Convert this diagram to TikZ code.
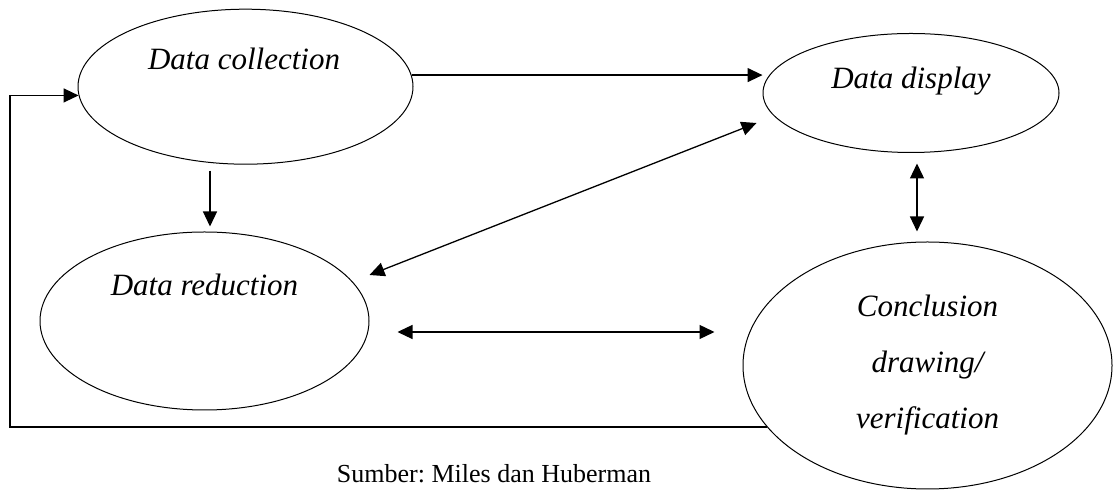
\documentclass[tikz,border=0pt]{standalone}
\usepackage{fontspec}
\setmainfont{Liberation Serif}
\usetikzlibrary{arrows.meta,shapes.geometric,calc}

\begin{document}
\begin{tikzpicture}[x=0.5pt,y=-0.5pt,
  stage/.style={draw,ellipse,inner sep=0pt,line width=0.5pt},
  stagetxt/.style={inner sep=0pt,font=\fontsize{15.5}{28}\selectfont\itshape},
  conn/.style={line width=0.65pt,-{Triangle[length=7.5pt,width=7pt]}},
  twoway/.style={line width=0.65pt,{Triangle[length=7.5pt,width=7pt]}-{Triangle[length=7.5pt,width=7pt]}}]
\useasboundingbox (0,0) rectangle (1113,490);

% ellipses
\node[stage,minimum width=167.5pt,minimum height=77.5pt] (coll) at (245.5,86.7) {};
\node[stage,minimum width=148pt,minimum height=59.5pt] (disp) at (911,93) {};
\node[stage,minimum width=164.5pt,minimum height=89pt] (red) at (204.5,321) {};
\node[stage,minimum width=184.5pt,minimum height=123.5pt] (conc) at (927.5,365.5) {};

% texts
\node[stagetxt,anchor=base] (colltxt) at (244,70) {Data collection};
\node[stagetxt,anchor=base] (disptxt) at (911,89) {Data display};
\node[stagetxt,anchor=base] (redtxt) at (204.5,296) {Data reduction};
\node[stagetxt,align=center] (conctxt) at (927.5,365) {Conclusion\\drawing/\\verification};

% arrows
\draw[conn] (coll.4) -- (coll.4 -| disp.west);
\draw[conn] ($(coll.south)+(-35.5,6)$) -- ($(red.north)+(5.5,-5)$);
\draw[twoway] ($(red.east)+(0,-46)$) -- ($(disp.west)+(-6,30)$);
\draw[twoway] ($(red.east)+(28,11)$) -- ($(conc.west)+(-28,-33.5)$);
\draw[twoway] ($(disp.south)+(6,10.5)$) -- ($(conc.north)+(-10.5,-10)$);

% loop back
\coordinate (lft) at (10,0);
\draw[conn] (conc.201) -- (conc.201 -| lft) |- (coll.183);

\node[anchor=base,inner sep=0pt,font=\fontsize{13}{15}\selectfont] (src) at (494,483) {\frenchspacing Sumber: Miles dan Huberman};
\end{tikzpicture}
\end{document}
